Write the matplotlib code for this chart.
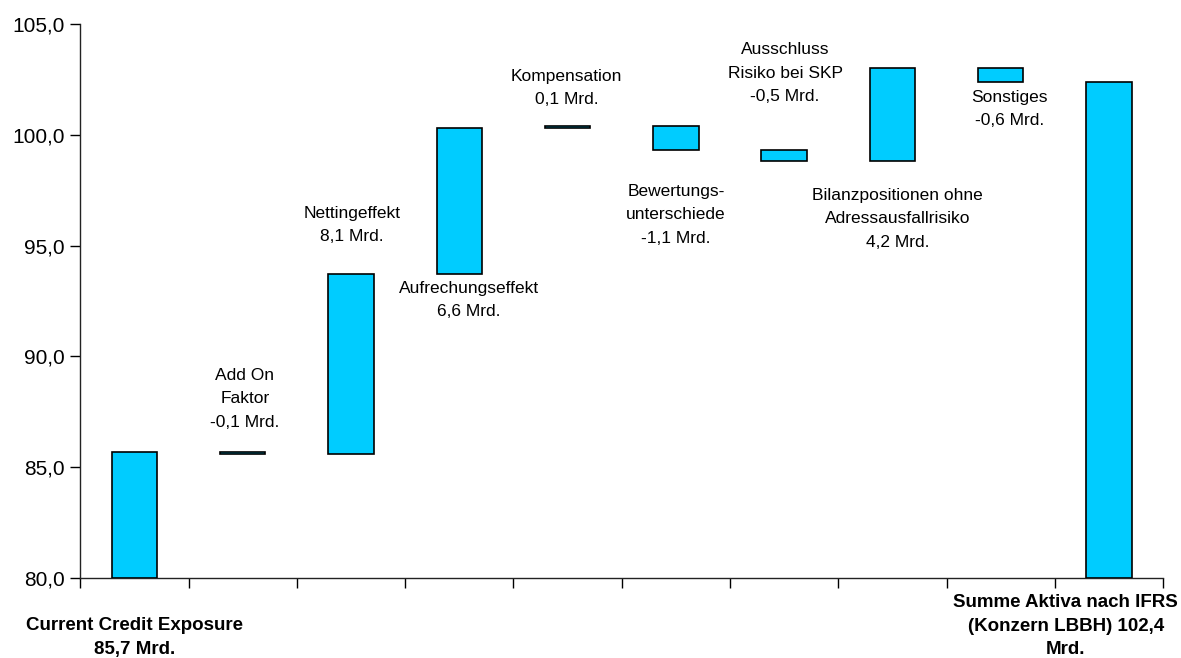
import numpy as np
import matplotlib
matplotlib.use("Agg")
import matplotlib.pyplot as plt
from matplotlib.ticker import FuncFormatter, FixedLocator
from matplotlib.transforms import blended_transform_factory

plt.rcParams['font.family'] = ['Liberation Sans', 'DejaVu Sans']

# ---- data ----
categories = ["Current Credit Exposure", "Add On Faktor", "Nettingeffekt",
              "Aufrechungseffekt", "Kompensation", "Bewertungsunterschiede",
              "Ausschluss Risiko bei SKP", "Bilanzpositionen ohne Adressausfallrisiko",
              "Sonstiges", "Summe Aktiva nach IFRS"]
start_value = 85.7
changes = [-0.1, 8.1, 6.6, 0.1, -1.1, -0.5, 4.2, -0.6]
end_value = 102.4
annotation_texts = ["Add On\nFaktor\n-0,1 Mrd.",
                    "Nettingeffekt\n8,1 Mrd.",
                    "Aufrechungseffekt\n6,6 Mrd.",
                    "Kompensation\n0,1 Mrd.",
                    "Bewertungs-\nunterschiede\n-1,1 Mrd.",
                    "Ausschluss\nRisiko bei SKP\n-0,5 Mrd.",
                    "Bilanzpositionen ohne\nAdressausfallrisiko\n4,2 Mrd.",
                    "Sonstiges\n-0,6 Mrd."]
first_label = "Current Credit Exposure\n85,7 Mrd."
last_label = "Summe Aktiva nach IFRS\n(Konzern LBBH) 102,4\nMrd."
y_ticks = [80, 85, 90, 95, 100, 105]

# ---- derived bar geometry ----
levels = start_value + np.concatenate([[0], np.cumsum(changes)])
bottoms = [80.0]
heights = [start_value - 80.0]
for i, c in enumerate(changes):
    lo = min(levels[i], levels[i + 1])
    bottoms.append(lo)
    heights.append(abs(c))
bottoms.append(80.0)
heights.append(end_value - 80.0)
x = np.arange(len(categories))

fig = plt.figure(figsize=(11.81, 6.58), dpi=100)
ax = fig.add_axes([0.068, 0.1216, 0.9168, 0.842])

ax.bar(x, heights, bottom=bottoms, width=0.42, color="#00CCFF",
       edgecolor="black", linewidth=1.2, zorder=3)

ax.set_xlim(-0.5, len(categories) - 0.5)
ax.set_ylim(80, 105)
ax.yaxis.set_major_locator(FixedLocator(y_ticks))
ax.yaxis.set_major_formatter(FuncFormatter(lambda v, p: f"{v:.1f}".replace('.', ',')))
ax.xaxis.set_major_locator(FixedLocator(np.arange(-0.5, len(categories), 1.0)))
ax.set_xticklabels([])
ax.tick_params(axis='y', labelsize=15, length=7, width=1, direction='out', pad=4)
ax.tick_params(axis='x', length=7, width=1, direction='out')
for s in ['top', 'right']:
    ax.spines[s].set_visible(False)
for s in ['left', 'bottom']:
    ax.spines[s].set_linewidth(1)
    ax.spines[s].set_color('#222222')

# annotation placement (x offset from category, y centre of text block)
ann_dx = [0.02, 0.01, 0.09, -0.01, 0.0, 0.01, 0.05, 0.08]
ann_y = [88.09, 95.93, 92.55, 102.11, 96.38, 102.78, 96.2, 101.16]
for i, (t, dx, yy) in enumerate(zip(annotation_texts, ann_dx, ann_y)):
    ax.text(i + 1 + dx, yy, t, ha='center', va='center', fontsize=12.5,
            linespacing=1.72, multialignment='center')

trans = blended_transform_factory(ax.transData, ax.transAxes)
ax.text(0, -0.108, first_label, transform=trans, ha='center', va='center',
        fontsize=13.5, fontweight='bold', linespacing=1.52, multialignment='center')
fig.text(0.9975, 0.0486, last_label, ha='right', va='center', fontsize=13.5,
         fontweight='bold', linespacing=1.52, multialignment='center')

fig.savefig("out.png", dpi=100)
